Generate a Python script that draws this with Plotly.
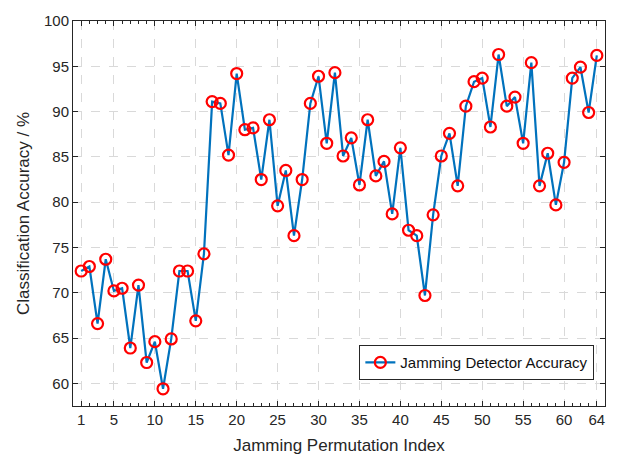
import plotly.graph_objects as go

perm_index = list(range(1, 65))
accuracy = [
    72.4, 72.9, 66.6, 73.7, 70.2, 70.5, 63.9, 70.85, 62.3, 64.6,
    59.4, 64.9, 72.4, 72.4, 66.9, 74.3, 91.1, 90.9, 85.2, 94.2,
    88.0, 88.2, 82.5, 89.1, 79.6, 83.5, 76.3, 82.5, 90.9, 93.9,
    86.5, 94.3, 85.1, 87.1, 81.9, 89.1, 82.9, 84.5, 78.7, 86.0,
    76.9, 76.3, 69.7, 78.6, 85.1, 87.6, 81.8, 90.6, 93.3, 93.7,
    88.3, 96.3, 90.6, 91.6, 86.5, 95.4, 81.8, 85.4, 79.7, 84.4,
    93.7, 94.9, 89.9, 96.2,
]
x_ticks = [1, 5, 10, 15, 20, 25, 30, 35, 40, 45, 50, 55, 60, 64]
y_ticks = [60, 65, 70, 75, 80, 85, 90, 95, 100]

font_family = "Liberation Sans, Arial, sans-serif"
axis_color = "#262626"

fig = go.Figure()
fig.add_trace(go.Scatter(
    x=perm_index, y=accuracy, mode="lines+markers",
    name="Jamming Detector Accuracy",
    line=dict(color="#0072BD", width=2.2),
    marker=dict(symbol="circle-open", size=11, color="#FF0000",
                line=dict(width=2.2, color="#FF0000")),
))

fig.update_layout(
    width=618, height=464,
    margin=dict(l=73, r=12, t=16, b=57),
    paper_bgcolor="white", plot_bgcolor="white",
    font=dict(family=font_family, color=axis_color, size=15),
    showlegend=True,
    legend=dict(x=0.98, y=0.067, xanchor="right", yanchor="bottom",
                bgcolor="white", bordercolor=axis_color, borderwidth=1,
                font=dict(size=15, color="#111111"),
                itemwidth=30, tracegroupgap=0),
)
fig.update_xaxes(
    range=[0, 65], tickvals=x_ticks, ticktext=[str(v) for v in x_ticks],
    showline=True, linecolor=axis_color, linewidth=1, mirror="ticks",
    ticks="inside", ticklen=5, tickcolor=axis_color,
    showgrid=True, gridcolor="#d9d9d9", griddash="dash", gridwidth=1,
    zeroline=False,
    minor=dict(ticks="inside", ticklen=3, dtick=1, tick0=0,
               tickcolor=axis_color, showgrid=False),
    title=dict(text="Jamming Permutation Index", font=dict(size=17), standoff=12),
    tickfont=dict(size=15),
)
fig.update_yaxes(
    range=[57.5, 100], tickvals=y_ticks,
    showline=True, linecolor=axis_color, linewidth=1, mirror="ticks",
    ticks="inside", ticklen=5, tickcolor=axis_color,
    showgrid=True, gridcolor="#d9d9d9", griddash="dash", gridwidth=1,
    zeroline=False,
    title=dict(text="Classification Accuracy / %", font=dict(size=17), standoff=10),
    tickfont=dict(size=15),
)

fig.write_html("out.html", config={"displayModeBar": False},
               post_script="document.body.style.margin='0px';")
